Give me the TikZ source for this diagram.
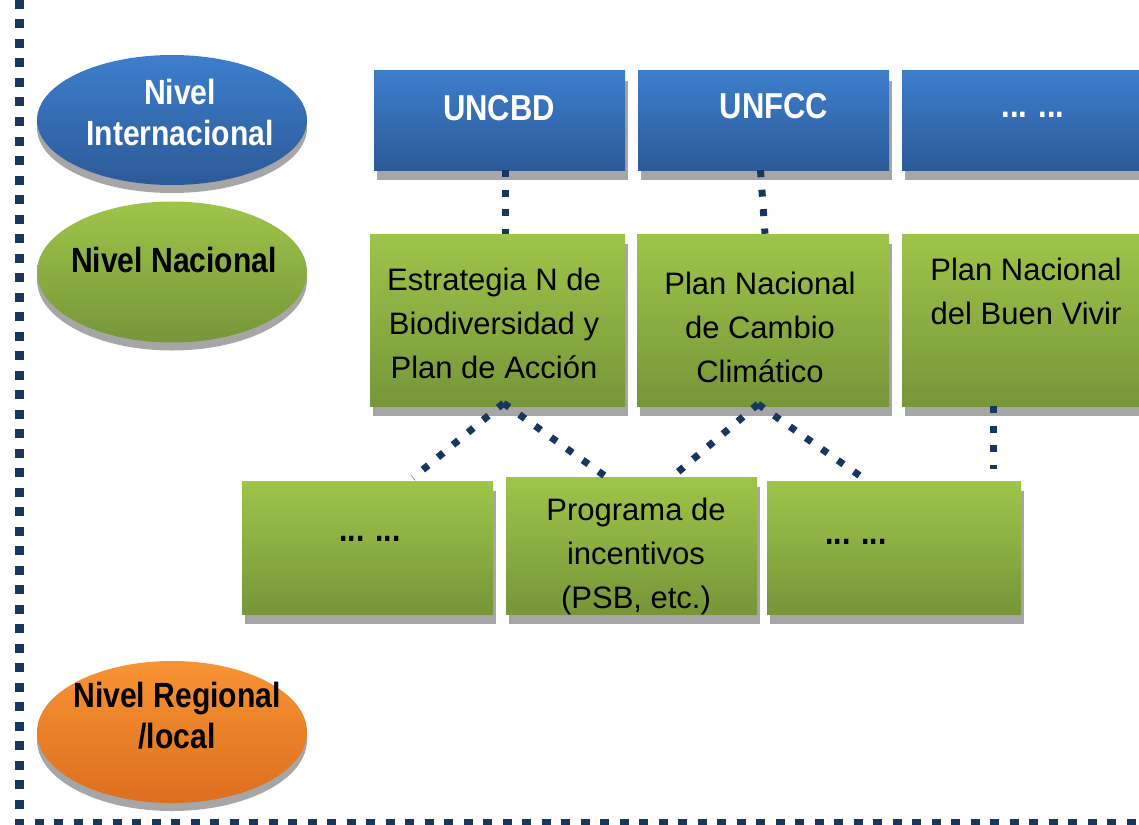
\documentclass[tikz,border=0pt]{standalone}
\usepackage{fontspec}
\setmainfont{Liberation Sans}
\newfontfamily\condb{Liberation Sans}[FakeStretch=0.86]
\usetikzlibrary{shapes.geometric,shadows,shadings}
\definecolor{blueT}{RGB}{61,126,204}
\definecolor{blueB}{RGB}{44,90,152}
\definecolor{greenT}{RGB}{158,197,74}
\definecolor{greenB}{RGB}{118,150,56}
\definecolor{orangeT}{RGB}{248,148,52}
\definecolor{orangeB}{RGB}{220,110,30}
\definecolor{navy}{RGB}{23,55,94}
\definecolor{shadowgray}{RGB}{166,166,166}
\begin{document}
\begin{tikzpicture}[x=1pt,y=-1pt,
  levelell/.style={ellipse, minimum width=270pt, inner sep=0pt,
    drop shadow={shadow xshift=0pt,shadow yshift=-8pt,fill=shadowgray,opacity=1}},
  box/.style={rectangle, inner sep=0pt, minimum width=251pt,
    drop shadow={shadow xshift=3pt,shadow yshift=-10pt,fill=shadowgray,opacity=1}},
  bluebox/.style={box, minimum height=99pt, top color=blueT, bottom color=blueB},
  greenbox/.style={box, top color=greenT, bottom color=greenB},
  txt/.style={font=\fontsize{31}{44}\selectfont, align=center, text=black, inner sep=0pt},
  dotstxt/.style={font=\condb\bfseries\fontsize{35}{41}\selectfont, inner sep=0pt},
  headtxt/.style={font=\condb\bfseries\fontsize{36}{42}\selectfont, text=white, inner sep=0pt},
  elltxt/.style={font=\condb\bfseries\fontsize{35}{41}\selectfont, align=center, inner sep=0pt},
  dotline/.style={draw=navy, line width=7pt, dash pattern=on 7pt off 12.5pt},
  border/.style={draw=navy, line width=9pt, dash pattern=on 9pt off 10.5pt}]
\useasboundingbox (0,0) rectangle (1139,824);

% level ellipses
\node[levelell, minimum height=130pt, top color=blueT, bottom color=blueB] (e1) at (172,120) {};
\node[elltxt, text=white] (e1t) at (180,112) {Nivel\\Internacional};
\node[levelell, minimum height=141pt, top color=greenT, bottom color=greenB] (e2) at (172,272) {};
\node[elltxt] (e2t) at (174,260) {Nivel Nacional};
\node[levelell, minimum height=142pt, top color=orangeT, bottom color=orangeB] (e3) at (172,732) {};
\node[elltxt] (e3t) at (177,716) {Nivel Regional\\/local};

% international boxes
\node[bluebox] (b1) at (499.5,120.5) {};
\node[headtxt] (b1t) at (499,108) {UNCBD};
\node[bluebox] (b2) at (763.5,120.5) {};
\node[headtxt] (b2t) at (774,106) {UNFCC};
\node[bluebox] (b3) at (1027.5,120.5) {};
\node[headtxt] (b3t) at (1033,115) {... ...};

% national boxes
\node[greenbox, minimum width=255pt, minimum height=172pt] (g1) at (497.5,320) {};
\node[txt] (g1t) at (494,323) {Estrategia N de\\Biodiversidad y\\Plan de Acción};
\node[greenbox, minimum width=252pt, minimum height=172pt] (g2) at (763,320) {};
\node[txt] (g2t) at (760,327) {Plan Nacional\\de Cambio\\Climático};
\node[greenbox, minimum height=172pt] (g3) at (1027.5,320) {};
\node[txt] (g3t) at (1026,291) {Plan Nacional\\del Buen Vivir};

% program boxes
\node[greenbox, minimum height=133pt] (r1) at (367.5,547.5) {};
\node[dotstxt] (r1t) at (370,539) {... ...};
\node[greenbox, minimum height=137pt] (r2) at (631.5,545.5) {};
\node[txt] (r2t) at (636,556) {Programa de\\incentivos\\(PSB, etc.)};
\node[greenbox, minimum width=254pt, minimum height=133pt] (r3) at (894,547.5) {};
\node[dotstxt] (r3t) at (856,542) {... ...};

% connectors
\draw[dotline] ([xshift=5.5pt]b1.south) -- ([xshift=7.5pt]g1.north);
\draw[dotline] ([xshift=-3pt]b2.south) -- ([xshift=2pt]g2.north);
\draw[dotline] ([xshift=6pt,yshift=3pt]g1.south) -- ([xshift=45.5pt,yshift=3pt]r1.north);
\draw[dotline] ([xshift=6pt,yshift=3pt]g1.south) -- ([xshift=-25.5pt]r2.north);
\draw[dotline] ([xshift=-5pt,yshift=2pt]g2.south) -- ([xshift=45.5pt,yshift=4pt]r2.north);
\draw[dotline] ([xshift=-5pt,yshift=2pt]g2.south) -- ([xshift=-27pt]r3.north);
\draw[dotline] ([xshift=-34.5pt]g3.south) -- ([xshift=99pt,yshift=12pt]r3.north);

% border
\coordinate (tl) at (19,0);
\coordinate (bl) at (19,823);
\coordinate (br) at (1139,823);
\draw[border] (tl) -- (bl) -- (br);
\end{tikzpicture}
\end{document}
